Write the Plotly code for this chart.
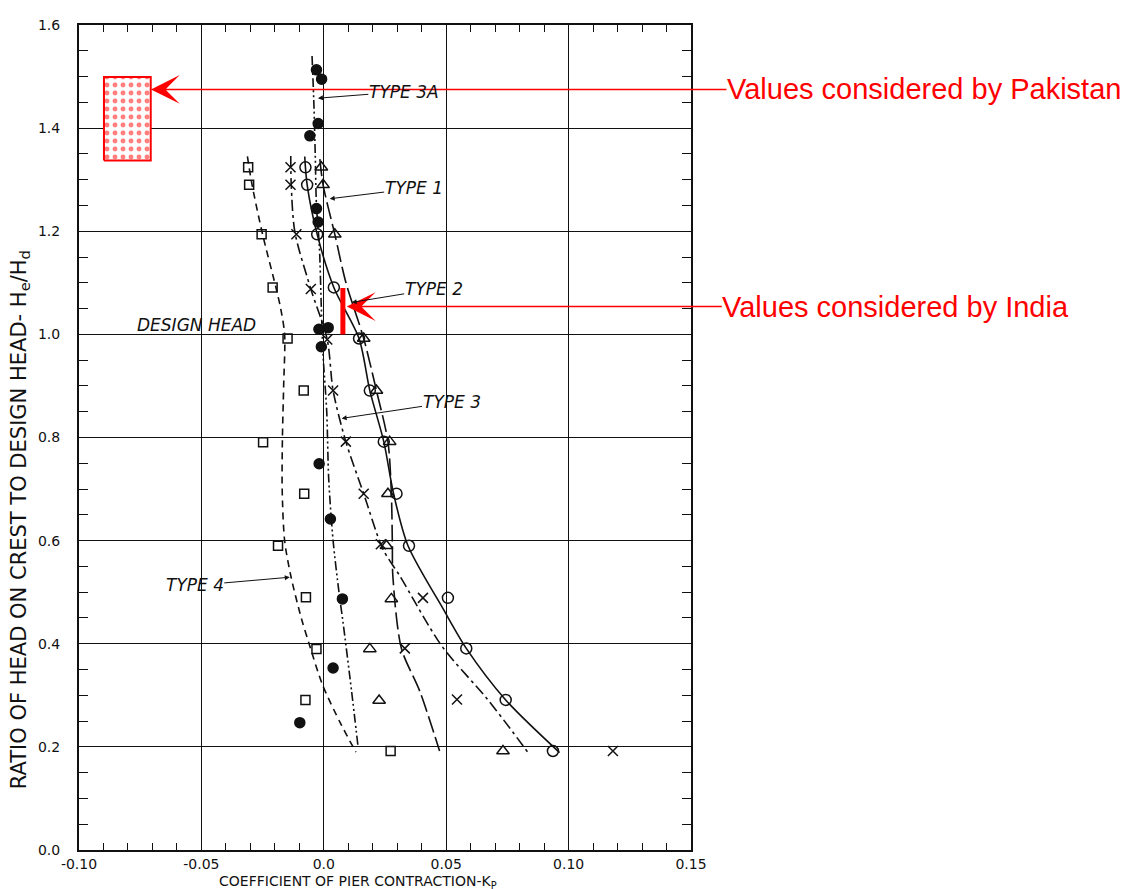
import plotly.graph_objects as go

# ---------------- data ----------------
# Type 4 : squares, dashed curve
t4_pts_k = [-0.0309, -0.0305, -0.0254, -0.0209, -0.0148, -0.0082, -0.0248, -0.0080, -0.0187, -0.0073, -0.0030, -0.0075, 0.0273]
t4_pts_h = [1.324, 1.290, 1.194, 1.091, 0.992, 0.891, 0.791, 0.691, 0.590, 0.490, 0.390, 0.291, 0.192]
t4_curve_k = [-0.0312, -0.0293, -0.0250, -0.0195, -0.0176, -0.0160, -0.0164, -0.0169, -0.0170, -0.0160, -0.0134, -0.0092, -0.0060, -0.0005, 0.0070, 0.0131]
t4_curve_h = [1.345, 1.290, 1.194, 1.090, 1.050, 1.000, 0.900, 0.800, 0.700, 0.600, 0.530, 0.450, 0.400, 0.320, 0.244, 0.190]

# Type 3A : filled circles, dash-dot-dot curve
t3a_pts_k = [-0.0030, -0.0009, -0.0023, -0.0057, -0.0030, -0.0023, -0.0020, 0.0018, -0.0010, -0.0019, 0.0027, 0.0076, 0.0038, -0.0098]
t3a_pts_h = [1.513, 1.495, 1.409, 1.385, 1.244, 1.218, 1.010, 1.013, 0.976, 0.749, 0.642, 0.487, 0.353, 0.247]
t3a_curve_k = [-0.0048, -0.0040, -0.0035, -0.0030, -0.0018, -0.0010, -0.0003, 0.0012, 0.0020, 0.0038, 0.0062, 0.0079, 0.0113, 0.0140]
t3a_curve_h = [1.540, 1.440, 1.350, 1.250, 1.170, 1.050, 0.960, 0.850, 0.720, 0.600, 0.500, 0.440, 0.310, 0.200]

# Type 3 : crosses, dash-dot curve
t3_pts_k = [-0.0136, -0.0136, -0.0112, -0.0053, 0.0014, 0.0038, 0.0090, 0.0163, 0.0233, 0.0405, 0.0331, 0.0544, 0.1181]
t3_pts_h = [1.324, 1.290, 1.194, 1.088, 0.990, 0.891, 0.792, 0.691, 0.593, 0.489, 0.391, 0.292, 0.192]
t3_curve_k = [-0.0135, -0.0133, -0.0118, -0.0053, 0.0014, 0.0038, 0.0090, 0.0163, 0.0242, 0.0310, 0.0480, 0.0664, 0.0759, 0.0834]
t3_curve_h = [1.346, 1.290, 1.198, 1.088, 0.990, 0.891, 0.792, 0.691, 0.583, 0.532, 0.397, 0.295, 0.237, 0.189]

# Type 2 : open circles, solid curve
t2_pts_k = [-0.0075, -0.0068, -0.0027, 0.0041, 0.0144, 0.0188, 0.0245, 0.0297, 0.0348, 0.0507, 0.0582, 0.0743, 0.0936]
t2_pts_h = [1.324, 1.290, 1.194, 1.091, 0.992, 0.891, 0.792, 0.691, 0.590, 0.489, 0.391, 0.291, 0.192]
t2_curve_k = [-0.0078, -0.0068, -0.0027, 0.0041, 0.0144, 0.0188, 0.0245, 0.0285, 0.0344, 0.0487, 0.0582, 0.0743, 0.0963]
t2_curve_h = [1.345, 1.290, 1.194, 1.091, 0.992, 0.891, 0.792, 0.691, 0.590, 0.468, 0.391, 0.291, 0.189]

# Type 1 : open triangles, long-dash curve
t1_pts_k = [-0.0010, -0.0003, 0.0045, 0.0163, 0.0215, 0.0269, 0.0262, 0.0256, 0.0276, 0.0188, 0.0226, 0.0732]
t1_pts_h = [1.324, 1.290, 1.194, 0.992, 0.891, 0.792, 0.691, 0.590, 0.487, 0.390, 0.290, 0.192]
t1_curve_k = [-0.0016, -0.0003, 0.0045, 0.0090, 0.0163, 0.0215, 0.0262, 0.0276, 0.0280, 0.0282, 0.0317, 0.0392, 0.0473]
t1_curve_h = [1.340, 1.290, 1.194, 1.101, 0.992, 0.891, 0.792, 0.691, 0.596, 0.532, 0.391, 0.308, 0.192]

# red annotations
pak_k = [-0.0898, -0.0707]
pak_h = [1.337, 1.499]
pak_arrow = (-0.0706, 1.475)
india_k = 0.0078
india_h = [1.000, 1.090]
india_arrow = (0.0094, 1.054)

x_ticks = [-0.10, -0.05, 0.0, 0.05, 0.10, 0.15]
x_tick_text = ["-0.10", "-0.05", "0.0", "0.05", "0.10", "0.15"]
y_ticks = [0.0, 0.2, 0.4, 0.6, 0.8, 1.0, 1.2, 1.4, 1.6]
y_tick_text = ["0.0", "0.2", "0.4", "0.6", "0.8", "1.0", "1.2", "1.4", "1.6"]

# ---------------- figure ----------------
INK = "#111111"
RED = "#ff0000"
FONT = "DejaVu Sans"
# plot area in figure pixels (page adds an 8px body margin)
L, R, T, B = 71, 683, 9, 842
PW, PH = R - L, B - T

fig = go.Figure()

curves = [
    (t4_curve_k, t4_curve_h, "7px,5px"),
    (t3a_curve_k, t3a_curve_h, "9px,3px,2px,3px,2px,3px"),
    (t3_curve_k, t3_curve_h, "11px,4px,3px,4px"),
    (t2_curve_k, t2_curve_h, "solid"),
    (t1_curve_k, t1_curve_h, "17px,5px"),
]
for k, h, dash in curves:
    fig.add_trace(go.Scatter(x=k, y=h, mode="lines",
                             line=dict(color=INK, width=1.6, dash=dash, shape="spline", smoothing=0.8),
                             hoverinfo="skip"))

points = [
    (t4_pts_k, t4_pts_h, "square-open", 9),
    (t3a_pts_k, t3a_pts_h, "circle", 10),
    (t3_pts_k, t3_pts_h, "x-thin-open", 10),
    (t2_pts_k, t2_pts_h, "circle-open", 11),
    (t1_pts_k, t1_pts_h, "triangle-up-open", 11),
]
for k, h, sym, sz in points:
    fig.add_trace(go.Scatter(x=k, y=h, mode="markers",
                             marker=dict(symbol=sym, size=sz, color=INK,
                                         line=dict(color=INK, width=1.5))))

# Pakistan box with dotted fill
fig.add_trace(go.Scatter(
    x=[pak_k[0], pak_k[1], pak_k[1], pak_k[0], pak_k[0]],
    y=[pak_h[0], pak_h[0], pak_h[1], pak_h[1], pak_h[0]],
    mode="lines", fill="toself", fillcolor="white",
    fillpattern=dict(shape=".", fgcolor=RED, bgcolor="white", size=8, solidity=0.3),
    line=dict(color=RED, width=2), hoverinfo="skip"))

# India bar
fig.add_shape(type="line", xref="x", yref="y",
              x0=india_k, x1=india_k, y0=india_h[0], y1=india_h[1],
              line=dict(color=RED, width=5))

# red arrows with texts
fig.add_annotation(x=pak_arrow[0], y=pak_arrow[1], xref="x", yref="y",
                   axref="pixel", ayref="pixel", ax=773, ay=0,
                   text="Values considered by Pakistan", showarrow=True,
                   arrowhead=3, arrowsize=3.2, arrowwidth=1.5, arrowcolor=RED,
                   font=dict(family="Liberation Sans, Arial", size=29, color=RED),
                   standoff=0, borderpad=0)
fig.add_annotation(x=india_arrow[0], y=india_arrow[1], xref="x", yref="y",
                   axref="pixel", ayref="pixel", ax=549, ay=0,
                   text="Values considered by India", showarrow=True,
                   arrowhead=3, arrowsize=3.2, arrowwidth=1.5, arrowcolor=RED,
                   font=dict(family="Liberation Sans, Arial", size=29, color=RED),
                   standoff=0, borderpad=0)

# type labels with leaders
labels = [
    ("TYPE 3A", 0.0327, 1.471, -0.0024, 1.458),
    ("TYPE 1", 0.0367, 1.283, 0.0024, 1.263),
    ("TYPE 2", 0.0449, 1.088, 0.0114, 1.062),
    ("TYPE 3", 0.0522, 0.869, 0.0073, 0.837),
    ("TYPE 4", -0.0527, 0.513, -0.0139, 0.529),
]
for txt, tx, ty, px, py in labels:
    fig.add_annotation(x=px, y=py, xref="x", yref="y", axref="x", ayref="y",
                       ax=tx, ay=ty, text=txt, showarrow=True,
                       arrowhead=2, arrowsize=1, arrowwidth=1, arrowcolor=INK,
                       font=dict(family=FONT, size=17, color=INK, style="italic"),
                       borderpad=0)
fig.add_annotation(x=-0.0518, y=1.019, xref="x", yref="y", text="DESIGN HEAD",
                   showarrow=False, font=dict(family=FONT, size=17, color=INK, style="italic"))

# axis titles
fig.add_annotation(xref="paper", yref="paper", x=(12 - L) / PW, y=(B - 509) / PH,
                   text="RATIO OF HEAD ON CREST TO DESIGN HEAD- H<sub>e</sub>/H<sub>d</sub>",
                   textangle=-90, showarrow=False, xanchor="center", yanchor="middle",
                   font=dict(family=FONT, size=21, color=INK))
fig.add_annotation(xref="paper", yref="paper", x=(350 - L) / PW, y=-(874 - B) / PH,
                   text="COEFFICIENT OF PIER CONTRACTION-K<sub>P</sub>",
                   showarrow=False, xanchor="center", yanchor="middle",
                   font=dict(family=FONT, size=14, color=INK))

fig.update_layout(
    width=1128, height=889,
    margin=dict(l=L, r=1128 - R, t=T, b=889 - B),
    paper_bgcolor="white", plot_bgcolor="white",
    showlegend=False,
    font=dict(family=FONT, size=14, color=INK),
)
fig.update_xaxes(range=[-0.10, 0.15], tickvals=x_ticks, ticktext=x_tick_text,
                 showgrid=True, gridcolor=INK, gridwidth=1.2, zeroline=False,
                 showline=True, linecolor=INK, linewidth=2, mirror="allticks",
                 ticks="inside", ticklen=7, tickcolor=INK, tickwidth=1.2,
                 minor=dict(dtick=0.01, tick0=-0.10, ticks="inside", ticklen=7, tickcolor=INK, tickwidth=1.2),
                 ticklabelstandoff=0,
                 tickfont=dict(family=FONT, size=14, color=INK))
fig.update_yaxes(range=[0, 1.6], tickvals=y_ticks, ticktext=y_tick_text,
                 showgrid=True, gridcolor=INK, gridwidth=1.2, zeroline=False,
                 showline=True, linecolor=INK, linewidth=2, mirror="allticks",
                 ticks="inside", ticklen=9, tickcolor=INK, tickwidth=1.2,
                 minor=dict(dtick=0.05, tick0=0, ticks="inside", ticklen=9, tickcolor=INK, tickwidth=1.2),
                 ticklabelstandoff=14,
                 tickfont=dict(family=FONT, size=14, color=INK))

fig.write_html("out.html")
